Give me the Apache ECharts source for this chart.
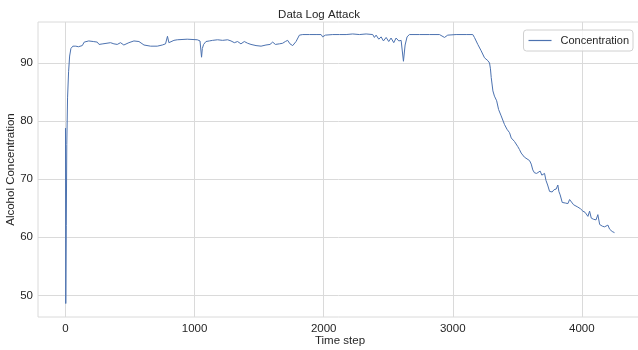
<!DOCTYPE html>
<html>
<head>
<meta charset="utf-8">
<script src="https://cdn.jsdelivr.net/npm/echarts@6/dist/echarts.min.js"></script>
<style>
  html, body { margin: 0; padding: 0; background: #ffffff; }
  #chart { width: 638px; height: 350px; }
</style>
</head>
<body>
<div id="chart"></div>
<script>
// Logged alcohol concentration per time step
const timeSteps = [
  0, 2, 6, 10, 16, 24, 32, 42, 57, 80, 100, 130, 145, 160, 180, 195, 215, 230, 246, 260,
  271, 290, 305, 349, 375, 401, 426, 452, 491, 530, 569, 608, 659, 711, 750, 775, 790, 801, 814, 840,
  866, 943, 1021, 1042, 1054, 1060, 1070, 1088, 1114, 1140, 1178, 1217, 1256, 1282, 1308, 1333, 1359, 1385, 1411, 1437,
  1476, 1515, 1553, 1584, 1605, 1626, 1657, 1682, 1703, 1721, 1739, 1760, 1786, 1812, 1838, 1889, 1941, 1980, 1992, 2013,
  2070, 2122, 2174, 2225, 2277, 2329, 2380, 2393, 2406, 2427, 2445, 2463, 2484, 2504, 2522, 2543, 2561, 2582, 2600, 2618,
  2631, 2646, 2664, 2742, 2819, 2897, 2936, 2961, 3026, 3104, 3155, 3168, 3194, 3220, 3246, 3272, 3285, 3292, 3298, 3311,
  3323, 3340, 3355, 3375, 3401, 3420, 3440, 3453, 3478, 3504, 3517, 3530, 3540, 3555, 3569, 3595, 3608, 3620, 3633, 3650,
  3665, 3677, 3690, 3711, 3722, 3735, 3750, 3770, 3785, 3801, 3814, 3822, 3832, 3848, 3872, 3892, 3905, 3918, 3936, 3950,
  3969, 3990, 4008, 4025, 4047, 4060, 4073, 4091, 4110, 4124, 4138, 4160, 4176, 4190, 4202, 4215, 4235, 4253
];
const concentration = [
  78.8, 48.6, 62.0, 76.0, 84.0, 88.5, 91.2, 92.5, 92.9, 92.9, 92.8, 93.0, 93.6, 93.9, 93.8, 94.0, 93.7, 93.9, 93.6, 93.2,
  93.0, 93.3, 93.1, 93.5, 93.3, 93.2, 93.5, 93.1, 93.5, 93.8, 93.7, 93.1, 92.9, 92.9, 93.1, 93.3, 94.6, 93.5, 93.8, 93.9,
  94.0, 94.1, 94.0, 93.8, 91.0, 92.5, 93.2, 93.7, 93.8, 93.9, 94.0, 93.9, 94.0, 93.8, 93.5, 93.7, 93.3, 93.7, 93.4, 93.2,
  93.0, 92.9, 93.1, 93.2, 93.6, 93.2, 93.3, 93.4, 93.7, 93.9, 93.3, 93.0, 93.7, 94.8, 94.9, 94.9, 94.9, 94.9, 94.5, 94.8,
  94.9, 94.9, 94.9, 95.0, 94.9, 95.0, 94.9, 94.4, 94.8, 94.1, 94.5, 93.8, 94.4, 93.7, 94.3, 93.5, 94.3, 93.8, 93.9, 90.3,
  93.1, 94.5, 94.9, 94.9, 94.9, 94.9, 94.4, 94.8, 94.9, 94.9, 94.9, 94.4, 93.2, 92.1, 90.9, 90.4, 90.0, 89.0, 87.5, 85.2,
  84.3, 83.5, 82.0, 80.9, 79.4, 78.6, 78.0, 77.1, 76.5, 75.6, 75.1, 74.5, 74.8, 73.8, 73.5, 73.2, 72.6, 71.6, 71.1, 71.0,
  71.3, 71.4, 70.7, 71.0, 69.8, 69.0, 67.9, 67.8, 68.2, 68.3, 69.0, 67.9, 67.3, 66.0, 65.9, 65.8, 66.5, 66.8, 65.6, 65.5,
  65.2, 64.9, 64.5, 64.3, 63.6, 64.5, 63.3, 63.1, 63.0, 63.9, 62.2, 61.9, 61.8, 62.0, 62.1, 61.4, 61.0, 60.8
];

// Axis ticks
const xTicks = [0, 1000, 2000, 3000, 4000];
const yTicks = [50, 60, 70, 80, 90];

const points = timeSteps.map((t, i) => [t, concentration[i]]);

const gridColor = '#dadada';
const textColor = '#262626';
const lineColor = '#4c72b0';
const fontFamily = '"Liberation Sans", Arial, sans-serif';

const chart = echarts.init(document.getElementById('chart'), null, { renderer: 'canvas' });
chart.setOption({
  backgroundColor: '#ffffff',
  animation: false,
  title: {
    text: 'Data Log Attack',
    left: 'center',
    top: 4,
    textStyle: { fontFamily, fontSize: 11.5, fontWeight: 'normal', color: textColor }
  },
  legend: {
    data: ['Concentration'],
    right: 5,
    top: 30,
    orient: 'vertical',
    icon: 'path://M0,0H23V1.2H0Z',
    itemWidth: 23,
    itemHeight: 1.2,
    padding: [5, 4, 5, 5],
    borderColor: '#d0d0d0',
    borderWidth: 1,
    borderRadius: 3,
    backgroundColor: 'rgba(255,255,255,0.8)',
    textStyle: { fontFamily, fontSize: 11, color: textColor, padding: [0, 0, 0, 4], lineHeight: 11 }
  },
  grid: {
    left: 38,
    top: 22,
    width: 604,
    height: 295,
    show: true,
    borderColor: gridColor,
    borderWidth: 1,
    containLabel: false,
    outerBoundsMode: 'none'
  },
  xAxis: {
    type: 'value',
    min: -213,
    max: 4466,
    name: 'Time step',
    nameLocation: 'middle',
    nameGap: 18,
    nameMoveOverlap: false,
    nameTextStyle: { fontFamily, fontSize: 11.5, color: textColor },
    axisLine: { show: false },
    axisTick: { show: false, customValues: xTicks },
    axisLabel: {
      customValues: xTicks, margin: 6, fontFamily, fontSize: 11.5, color: textColor,
      formatter: (v) => String(v)
    },
    splitLine: { show: true, lineStyle: { color: gridColor, width: 1 } }
  },
  yAxis: {
    type: 'value',
    min: 46.28,
    max: 97.06,
    name: 'Alcohol Concentration',
    nameLocation: 'middle',
    nameGap: 21,
    nameMoveOverlap: false,
    nameTextStyle: { fontFamily, fontSize: 11.5, color: textColor },
    axisLine: { show: false },
    axisTick: { show: false, customValues: yTicks },
    axisLabel: {
      customValues: yTicks, margin: 5, fontFamily, fontSize: 11.5, color: textColor,
      formatter: (v) => String(v)
    },
    splitLine: { show: true, lineStyle: { color: gridColor, width: 1 } }
  },
  series: [{
    name: 'Concentration',
    type: 'line',
    data: points,
    symbol: 'none',
    showSymbol: false,
    lineStyle: { color: lineColor, width: 1 },
    itemStyle: { color: lineColor }
  }]
});
</script>
</body>
</html>
